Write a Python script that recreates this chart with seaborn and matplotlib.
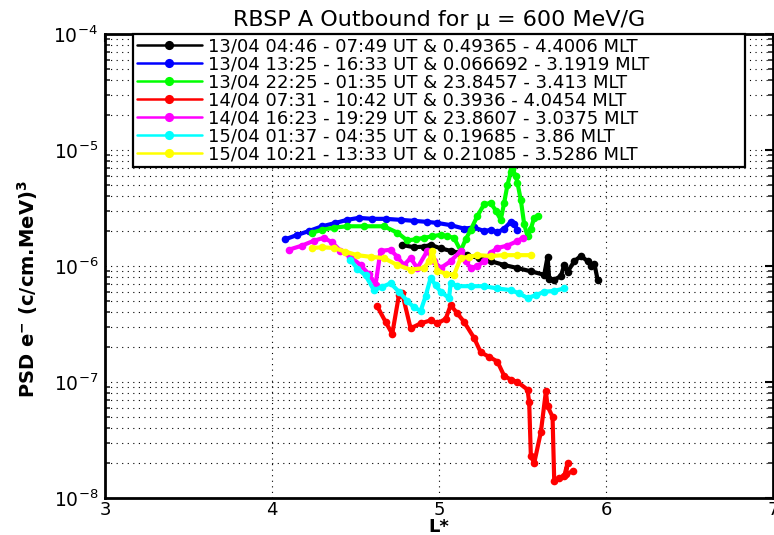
import numpy as np
import pandas as pd
import matplotlib
matplotlib.use("Agg")
import matplotlib.pyplot as plt
import seaborn as sns
from matplotlib.ticker import LogLocator, FixedLocator, NullFormatter

# ---------------- data ----------------
labels = [
    "13/04 04:46 - 07:49 UT & 0.49365 - 4.4006 MLT",
    "13/04 13:25 - 16:33 UT & 0.066692 - 3.1919 MLT",
    "13/04 22:25 - 01:35 UT & 23.8457 - 3.413 MLT",
    "14/04 07:31 - 10:42 UT & 0.3936 - 4.0454 MLT",
    "14/04 16:23 - 19:29 UT & 23.8607 - 3.0375 MLT",
    "15/04 01:37 - 04:35 UT & 0.19685 - 3.86 MLT",
    "15/04 10:21 - 13:33 UT & 0.21085 - 3.5286 MLT",
]
colors = ["#000000", "#0000FF", "#00FF00", "#FF0000", "#FF00FF", "#00FFFF", "#FFFF00"]

black_L = [4.78, 4.85, 4.91, 4.95, 5.01, 5.07, 5.12, 5.17, 5.24, 5.31, 5.39, 5.47,
           5.55, 5.63, 5.65, 5.66, 5.69, 5.73, 5.75, 5.77, 5.81, 5.85, 5.89, 5.91, 5.93, 5.95]
black_v = [1.52e-6, 1.45e-6, 1.47e-6, 1.52e-6, 1.42e-6, 1.35e-6, 1.30e-6, 1.24e-6, 1.17e-6,
           1.10e-6, 1.02e-6, 9.6e-7, 9.0e-7, 8.4e-7, 1.2e-6, 7.8e-7, 7.6e-7, 8.2e-7, 1.02e-6,
           8.9e-7, 1.1e-6, 1.22e-6, 1.1e-6, 1.0e-6, 1.05e-6, 7.6e-7]

blue_L = [4.08, 4.15, 4.22, 4.30, 4.38, 4.45, 4.52, 4.60, 4.68, 4.77, 4.85, 4.93, 4.99,
          5.07, 5.15, 5.21, 5.27, 5.31, 5.35, 5.39, 5.43, 5.45, 5.47]
blue_v = [1.7e-6, 1.85e-6, 2.0e-6, 2.2e-6, 2.35e-6, 2.5e-6, 2.6e-6, 2.55e-6, 2.55e-6,
          2.5e-6, 2.45e-6, 2.4e-6, 2.35e-6, 2.25e-6, 2.1e-6, 2.15e-6, 2.0e-6, 2.05e-6,
          1.95e-6, 2.1e-6, 2.4e-6, 2.3e-6, 2.05e-6]

green_L = [4.24, 4.30, 4.37, 4.45, 4.55, 4.67, 4.75, 4.81, 4.86, 4.91, 4.96, 5.01, 5.05,
           5.09, 5.13, 5.16, 5.19, 5.23, 5.27, 5.31, 5.34, 5.37, 5.39, 5.41, 5.43, 5.44,
           5.46, 5.47, 5.49, 5.51, 5.53, 5.55, 5.57, 5.59]
green_v = [1.94e-6, 2.05e-6, 2.14e-6, 2.2e-6, 2.2e-6, 2.2e-6, 1.94e-6, 1.66e-6, 1.7e-6,
           1.75e-6, 1.8e-6, 1.86e-6, 1.8e-6, 1.75e-6, 1.35e-6, 1.7e-6, 2.05e-6, 2.7e-6,
           3.4e-6, 3.5e-6, 3.0e-6, 2.5e-6, 3.5e-6, 5.0e-6, 6.5e-6, 6.8e-6, 6.0e-6, 5.2e-6,
           3.7e-6, 2.3e-6, 1.8e-6, 2.1e-6, 2.6e-6, 2.7e-6]

red_L = [4.63, 4.68, 4.72, 4.76, 4.78, 4.83, 4.89, 4.95, 4.99, 5.04, 5.07, 5.11, 5.15,
         5.21, 5.25, 5.30, 5.35, 5.39, 5.43, 5.47, 5.53, 5.54, 5.55, 5.57, 5.61, 5.64,
         5.65, 5.68, 5.69, 5.72, 5.75, 5.77, 5.76, 5.80]
red_v = [4.5e-7, 3.3e-7, 2.6e-7, 5.6e-7, 5.8e-7, 2.9e-7, 3.2e-7, 3.4e-7, 3.2e-7, 3.5e-7,
         4.6e-7, 3.9e-7, 3.3e-7, 2.4e-7, 1.8e-7, 1.65e-7, 1.5e-7, 1.13e-7, 1.05e-7, 1.0e-7,
         8.6e-8, 6.7e-8, 2.3e-8, 2.0e-8, 3.7e-8, 8.3e-8, 6.2e-8, 5.0e-8, 1.4e-8, 1.5e-8,
         1.55e-8, 2.0e-8, 1.6e-8, 1.7e-8]

magenta_L = [4.10, 4.18, 4.25, 4.31, 4.36, 4.41, 4.47, 4.53, 4.58, 4.62, 4.65, 4.71, 4.75,
             4.79, 4.83, 4.87, 4.93, 4.97, 5.01, 5.07, 5.13, 5.16, 5.19, 5.23, 5.27, 5.31,
             5.35, 5.41, 5.47, 5.50]
magenta_v = [1.38e-6, 1.5e-6, 1.65e-6, 1.75e-6, 1.6e-6, 1.35e-6, 1.2e-6, 1.02e-6, 8.5e-7,
             6.9e-7, 1.35e-6, 1.38e-6, 1.2e-6, 1.02e-6, 1.17e-6, 9.6e-7, 1.35e-6, 1.1e-6,
             9.6e-7, 1.1e-6, 1.35e-6, 1.1e-6, 9.6e-7, 1.0e-6, 1.1e-6, 1.3e-6, 1.43e-6,
             1.5e-6, 1.64e-6, 1.75e-6]

cyan_L = [4.47, 4.51, 4.56, 4.61, 4.66, 4.71, 4.76, 4.81, 4.85, 4.89, 4.92, 4.95, 4.98,
          5.01, 5.06, 5.07, 5.11, 5.19, 5.27, 5.35, 5.43, 5.48, 5.53, 5.58, 5.63, 5.69, 5.75]
cyan_v = [1.13e-6, 9.5e-7, 8.3e-7, 6.2e-7, 6.6e-7, 7.1e-7, 6.0e-7, 5.0e-7, 4.4e-7, 4.1e-7,
          5.5e-7, 7.9e-7, 6.8e-7, 6.0e-7, 5.3e-7, 7.1e-7, 6.7e-7, 6.7e-7, 6.7e-7, 6.4e-7,
          6.2e-7, 5.8e-7, 5.3e-7, 5.6e-7, 6.0e-7, 6.1e-7, 6.4e-7]

yellow_L = [4.24, 4.30, 4.37, 4.44, 4.51, 4.59, 4.67, 4.75, 4.83, 4.91, 4.94, 4.96, 4.99,
            5.04, 5.09, 5.13, 5.18, 5.23, 5.31, 5.39, 5.47, 5.55]
yellow_v = [1.43e-6, 1.45e-6, 1.43e-6, 1.33e-6, 1.24e-6, 1.2e-6, 1.17e-6, 1.02e-6, 9.3e-7,
            9.6e-7, 1.1e-6, 1.35e-6, 9.1e-7, 8.6e-7, 8.4e-7, 1.17e-6, 1.2e-6, 1.24e-6,
            1.22e-6, 1.24e-6, 1.24e-6, 1.24e-6]

x_ticks = [3, 4, 5, 6, 7]
title = "RBSP A Outbound for \u03bc = 600 MeV/G"
xlabel = "L*"
ylabel = "PSD e$^{\\mathbf{-}}$ (c/cm.MeV)$^{\\mathbf{3}}$"

series_L = [black_L, blue_L, green_L, red_L, magenta_L, cyan_L, yellow_L]
series_v = [black_v, blue_v, green_v, red_v, magenta_v, cyan_v, yellow_v]

frames = []
for lab, Ls, vs in zip(labels, series_L, series_v):
    frames.append(pd.DataFrame({"L": Ls, "PSD": vs, "series": lab}))
df = pd.concat(frames, ignore_index=True)

# ---------------- styling ----------------
sns.set_style("white")
plt.rcParams["font.family"] = ["DejaVu Sans"]
plt.rcParams["mathtext.fontset"] = "dejavusans"
plt.rcParams["text.color"] = "black"
plt.rcParams["axes.labelcolor"] = "black"

W, H = 774, 535
fig = plt.figure(figsize=(W / 100, H / 100), dpi=100)
ax = fig.add_axes([105 / W, (H - 498) / H, 668 / W, 464 / H])

for lab, col in zip(labels, colors):
    sub = df[df["series"] == lab]
    sns.lineplot(data=sub, x="L", y="PSD", color=col, sort=False, estimator=None,
                 linewidth=3.0, marker="o", markersize=5.5, markeredgewidth=0,
                 label=lab, ax=ax)

ax.set_yscale("log")
ax.set_xlim(3, 7)
ax.set_ylim(1e-8, 1e-4)
ax.xaxis.set_major_locator(FixedLocator(x_ticks))
ax.set_xticklabels([str(t) for t in x_ticks])
ax.yaxis.set_major_locator(LogLocator(base=10, numticks=10))
ax.yaxis.set_minor_locator(LogLocator(base=10, subs=np.arange(2, 10), numticks=20))
ax.yaxis.set_minor_formatter(NullFormatter())

ax.grid(True, which="major", axis="both", color="black", linestyle=(0, (1, 4)), linewidth=0.8)
ax.grid(True, which="minor", axis="y", color="black", linestyle=(0, (1, 4)), linewidth=0.8)

for sp in ax.spines.values():
    sp.set_linewidth(2.0)
    sp.set_color("black")

ax.tick_params(axis="both", which="major", direction="in", length=6, width=1.5,
               top=True, right=True, labelsize=13.5, colors="black", pad=5)
ax.tick_params(axis="x", which="major", pad=2, labelsize=13)
ax.tick_params(axis="y", which="minor", direction="in", length=3.5, width=1.2,
               left=True, right=True)

ax.set_title(title, fontsize=16, pad=6, color="black")
ax.set_xlabel(xlabel, fontsize=13, fontweight="bold")
ax.xaxis.set_label_coords(0.5, -(518 - 498) / 464)
ax.set_ylabel(ylabel, fontsize=14, fontweight="bold")
ax.yaxis.set_label_coords(-(105 - 40) / 668, 0.45)

handles, labs = ax.get_legend_handles_labels()
leg = ax.legend(handles, labs, loc="upper left",
                bbox_to_anchor=((133 - 105) / 668, (498 - 166) / 464,
                                (745 - 133) / 668, (166 - 34) / 464),
                mode="expand", borderaxespad=0, fontsize=13, frameon=True,
                fancybox=False, edgecolor="black", framealpha=1,
                handlelength=3.6, handletextpad=0.35, borderpad=0.2,
                labelspacing=0.0, markerscale=1.2)
leg.get_frame().set_linewidth(1.6)
for lh in leg.get_lines():
    lh.set_linewidth(1.8)

fig.savefig("out.png", dpi=100, facecolor="white")
